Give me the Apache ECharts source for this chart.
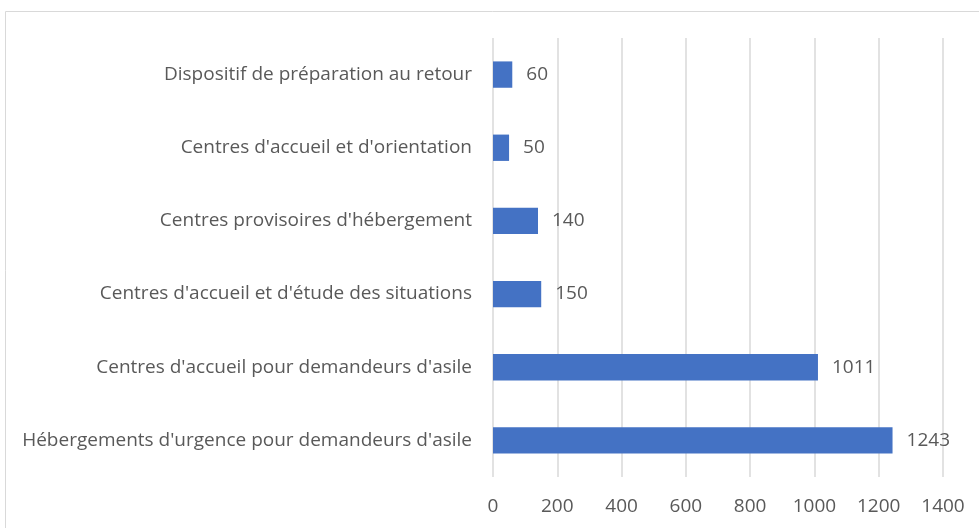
<!DOCTYPE html>
<html><head><meta charset="utf-8">
<script src="https://cdn.jsdelivr.net/npm/echarts@6/dist/echarts.min.js"></script>
<style>html,body{margin:0;padding:0;background:#fff}#c{width:979px;height:528px}</style>
</head><body><div id="c"></div>
<script>
var categories = [
  "Hébergements d'urgence pour demandeurs d'asile",
  "Centres d'accueil pour demandeurs d'asile",
  "Centres d'accueil et d'étude des situations",
  "Centres provisoires d'hébergement",
  "Centres d'accueil et d'orientation",
  "Dispositif de préparation au retour"
];
var values = [1243, 1011, 150, 140, 50, 60];
var xTicks = [0, 200, 400, 600, 800, 1000, 1200, 1400];

var chart = echarts.init(document.getElementById('c'), null, {renderer: 'canvas'});
chart.setOption({
  animation: false,
  textStyle: {fontFamily: 'Open Sans'},
  graphic: [{type: 'rect', shape: {x: 5.5, y: 11.5, width: 990, height: 540}, style: {fill: 'none', stroke: '#d9d9d9', lineWidth: 1}}],
  grid: {left: 493, right: 36, top: 38, bottom: 51, containLabel: false},
  xAxis: {
    type: 'value', min: xTicks[0], max: xTicks[xTicks.length - 1], interval: 200,
    axisLine: {show: false}, axisTick: {show: false},
    splitLine: {show: true, lineStyle: {color: '#d9d9d9', width: 1.5}},
    axisLabel: {color: '#595959', fontSize: 19, margin: 20, formatter: function (v) { return String(v); }}
  },
  yAxis: {
    type: 'category', data: categories,
    axisLine: {show: false}, axisTick: {show: false},
    axisLabel: {color: '#595959', fontSize: 19, margin: 21}
  },
  series: [{
    type: 'bar', data: values, barWidth: '36%',
    itemStyle: {color: '#4472C4'},
    label: {show: true, position: 'right', distance: 14, color: '#595959', fontSize: 19}
  }]
});
</script></body></html>
